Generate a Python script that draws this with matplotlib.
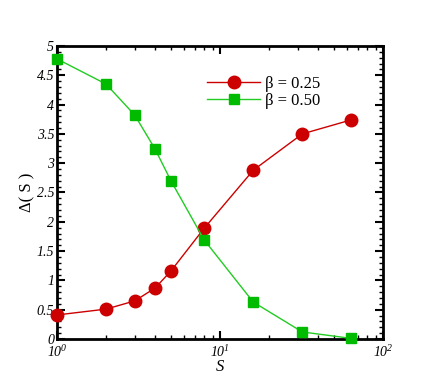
import math
import matplotlib
matplotlib.use("Agg")
import matplotlib.pyplot as plt
from matplotlib.ticker import FixedLocator, MultipleLocator, LogLocator, FuncFormatter, NullFormatter

plt.rcParams['font.family'] = 'Liberation Serif'
plt.rcParams['mathtext.fontset'] = 'custom'
plt.rcParams['mathtext.rm'] = 'Liberation Serif:italic'
plt.rcParams['mathtext.it'] = 'Liberation Serif:italic'

# データ
s_values = [1, 2, 3, 4, 5, 8, 16, 32, 64]
delta_025 = [0.41, 0.51, 0.65, 0.87, 1.16, 1.89, 2.88, 3.50, 3.74]
delta_050 = [4.78, 4.35, 3.82, 3.24, 2.70, 1.69, 0.63, 0.12, 0.01]
labels = [r"β = 0.25", r"β = 0.50"]

fig = plt.figure(figsize=(4.36, 3.82), dpi=100)
ax = fig.add_axes([0.1307, 0.1126, 0.7477, 0.767])

ax.plot(s_values, delta_025, color="#cc0000", lw=1.0, marker="o", ms=9,
        markeredgecolor="#cc0000", label=labels[0], clip_on=False, zorder=3)
ax.plot(s_values, delta_050, color="#22cc22", lw=1.0, marker="s", ms=7,
        markerfacecolor="#00bb00", markeredgecolor="#00bb00", label=labels[1],
        clip_on=False, zorder=3)

ax.set_xscale("log")
ax.set_xlim(1, 100)
ax.set_ylim(0, 5)

ax.xaxis.set_major_locator(FixedLocator([1, 10, 100]))
ax.xaxis.set_minor_locator(LogLocator(base=10, subs=range(2, 10)))
ax.xaxis.set_major_formatter(FuncFormatter(lambda v, p: r"$10^{%d}$" % round(math.log10(v))))
ax.xaxis.set_minor_formatter(NullFormatter())
ax.yaxis.set_major_locator(MultipleLocator(0.5))
ax.yaxis.set_minor_locator(MultipleLocator(0.1))
ax.yaxis.set_major_formatter(FuncFormatter(lambda v, p: ("%g" % v)))

ax.tick_params(which="both", direction="in", top=True, right=True, width=1.0)
ax.tick_params(which="major", length=6, width=1.5, labelsize=10, pad=2)
ax.tick_params(axis="x", which="major", pad=4)
ax.tick_params(which="minor", length=3)
for lab in ax.get_yticklabels():
    lab.set_fontstyle("italic")
for sp in ax.spines.values():
    sp.set_linewidth(2)

ax.set_xlabel("S", fontstyle="italic", fontsize=12, labelpad=-1)
ax.set_ylabel("Δ( S )", fontsize=12, labelpad=1)

ax.legend(loc="upper left", bbox_to_anchor=(0.44, 0.92), frameon=False,
          fontsize=12, handlelength=3.2, handletextpad=0.3, labelspacing=0.05,
          borderaxespad=0)

plt.savefig("out.png", dpi=100)
